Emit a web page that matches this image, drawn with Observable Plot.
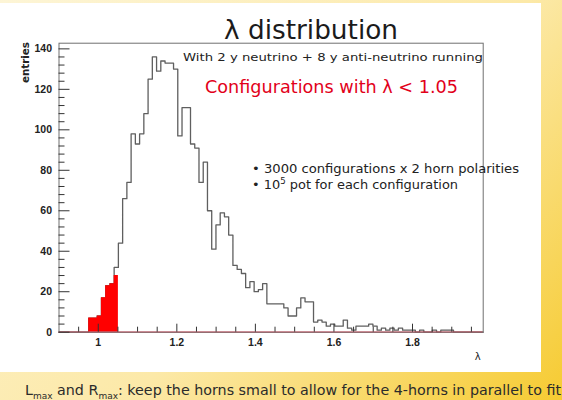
<!DOCTYPE html>
<html><head><meta charset="utf-8">
<script src="https://cdn.jsdelivr.net/npm/d3@7"></script>
<script src="https://cdn.jsdelivr.net/npm/@observablehq/plot@0.6"></script>
<style>
html,body{margin:0;padding:0;width:562px;height:400px;overflow:hidden;}
body{background:linear-gradient(135deg,#fdf5d6 0%,#fce9a8 55%,#f6cb32 100%);position:relative;}
#panel{position:absolute;left:0;top:3px;width:541px;height:369px;background:#fff;}
#chart{position:absolute;left:0;top:0;}
</style></head><body>
<div id="panel"></div>
<div id="chart"></div>
<script>
// Histogram binning: 100 bins from 0.9 to 1.98
const xMin = 0.9;
const binWidth = 0.0108;
// entries per bin (all configurations)
const counts = [
  0, 0, 0, 0, 0, 0, 0,
  7, 7, 8, 17, 23, 24, 32,
  44, 66, 74, 98, 93, 98, 108,
  125, 136, 129, 134, 133, 133, 130,
  97, 111, 111, 93, 91, 74, 84,
  60, 41, 53, 59, 57, 48, 33,
  31, 29, 22, 25, 20, 21, 24,
  14, 14, 14, 14, 12, 8, 8,
  12, 17, 15, 15, 5, 6, 5,
  3, 4, 3, 3, 6, 2, 1,
  3, 3, 3, 4, 3, 1, 2,
  1, 2, 1, 2, 1, 1, 1,
  0, 1, 0, 0, 1, 0, 1,
  1, 1, 0, 0, 0, 0, 0,
  0, 0
];
// configurations with lambda < 1.05 (red), starting at bin 7
const redFirstBin = 7;
const redCounts = [7, 7, 8, 17, 23, 24, 28];

const yMajor = [0, 20, 40, 60, 80, 100, 120, 140];
const yMinor = [4, 8, 12, 16, 24, 28, 32, 36, 44, 48, 52, 56, 64, 68, 72, 76, 84, 88, 92, 96, 104, 108, 112, 116, 124, 128, 132, 136];
const xMajor = [1, 1.2, 1.4, 1.6, 1.8];
const xMinor = [0.95, 1.05, 1.1, 1.15, 1.25, 1.3, 1.35, 1.45, 1.5, 1.55, 1.65, 1.7, 1.75, 1.85, 1.9, 1.95];

function stepPoints(values, firstBin) {
  const pts = [{x: xMin + firstBin * binWidth, y: 0}];
  values.forEach((c, i) => {
    const k = firstBin + i;
    pts.push({x: xMin + k * binWidth, y: c}, {x: xMin + (k + 1) * binWidth, y: c});
  });
  pts.push({x: xMin + (firstBin + values.length) * binWidth, y: 0});
  return pts;
}
const steps = stepPoints(counts, 0);
const redSteps = stepPoints(redCounts, redFirstBin);

const chart = Plot.plot({
  width: 562,
  height: 400,
  marginLeft: 58.5,
  marginRight: 79.3,
  marginTop: 42.7,
  marginBottom: 68.3,
  style: {background: "transparent", fontFamily: "'Liberation Sans', Arial, sans-serif", fontSize: "10.5px", fontWeight: "bold", color: "#222"},
  x: {domain: [xMin, xMin + counts.length * binWidth], label: null},
  y: {domain: [0, 142.8], label: null},
  marks: [
    Plot.line(steps, {x: "x", y: "y", stroke: "#5f5f5f", strokeWidth: 1.3}),
    Plot.areaY(redSteps, {x: "x", y1: 0, y2: "y", fill: "#ff0000"}),
    Plot.ruleY([0], {stroke: "#e4384f", strokeWidth: 1.2}),
    Plot.frame({stroke: "#707070"}),
    Plot.axisY(yMajor, {tickSize: 0, tickPadding: 7, label: null}),
    Plot.axisY(yMajor, {tickSize: 11, dx: 11, tickFormat: () => "", label: null, stroke: "#333"}),
    Plot.axisY(yMinor, {tickSize: 6, dx: 6, tickFormat: () => "", label: null, stroke: "#333"}),
    Plot.axisX(xMajor, {tickSize: 0, tickPadding: 6, tickFormat: d => String(d), label: null}),
    Plot.axisX(xMajor, {tickSize: 8, dy: -8, tickFormat: () => "", label: null, stroke: "#333"}),
    Plot.axisX(xMinor, {tickSize: 5, dy: -5, tickFormat: () => "", label: null, stroke: "#333"})
  ]
});
document.getElementById("chart").appendChild(chart);

const svg = d3.select(chart);
const g = svg.append("g").attr("font-family", "'DejaVu Sans', Verdana, sans-serif")
  .attr("font-weight", "normal").attr("text-anchor", "start");
function addText(x, y, size, fill, len, parts) {
  const t = g.append("text").attr("x", x).attr("y", y).attr("font-size", size).attr("fill", fill)
    .attr("text-anchor", "start").attr("textLength", len).attr("lengthAdjust", "spacingAndGlyphs");
  parts.forEach(p => {
    const s = t.append("tspan").text(p.t);
    if (p.size) s.attr("font-size", p.size);
    if (p.dy) s.attr("dy", p.dy);
  });
  return t;
}
addText(224, 39, 26, "#1b1b1b", 174, [{t: "λ distribution"}]);
addText(183, 60.5, 11, "#222", 300, [{t: "With 2 y neutrino + 8 y anti-neutrino running"}]);
addText(205, 92.5, 17, "#e2001a", 253, [{t: "Configurations with λ < 1.05"}]);
addText(252, 172.5, 12, "#222", 267, [{t: "• 3000 configurations x 2 horn polarities"}]);
addText(252, 189, 12, "#222", 206, [{t: "• 10"}, {t: "5", size: 8, dy: -5}, {t: " pot for each configuration", dy: 5}]);
addText(25, 394.5, 13.5, "#2b2b2b", 536, [
  {t: "L"}, {t: "max", size: 8.5, dy: 4}, {t: " and R", dy: -4}, {t: "max", size: 8.5, dy: 4},
  {t: ": keep the horns small to allow for the 4-horns in parallel to fit", dy: -4}
]);
// axis titles
g.append("text").attr("transform", "translate(29.3,42) rotate(-90)").attr("text-anchor", "end")
  .attr("font-size", 10.5).attr("font-weight", "bold").attr("fill", "#222")
  .attr("textLength", 41).attr("lengthAdjust", "spacingAndGlyphs").text("entries");
g.append("text").attr("x", 477.7).attr("y", 360).attr("text-anchor", "middle")
  .attr("font-size", 10).attr("fill", "#222").text("λ");
</script></body></html>
